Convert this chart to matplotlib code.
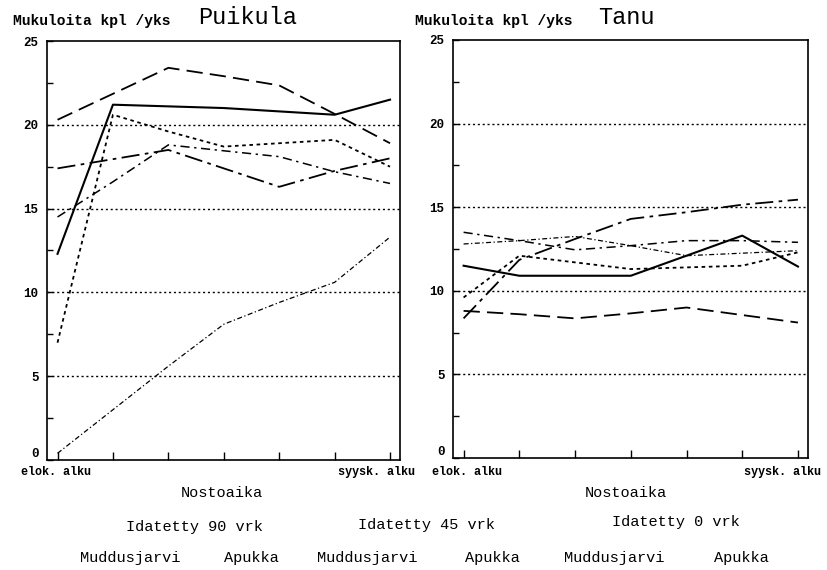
import matplotlib.pyplot as plt
import numpy as np

# nostoaika points (7 lifting times, elok. alku -> syysk. alku)
nosto = [0, 1, 2, 3, 4, 5, 6]

# Puikula, mukuloita kpl /yks
puikula_a = [12.3, 21.2, 21.1, 21.0, 20.8, 20.6, 21.5]
puikula_b = [20.3, 21.85, 23.4, 22.9, 22.35, 20.65, 18.9]
puikula_c = [7.0, 20.6, 19.6, 18.7, 18.9, 19.1, 17.5]
puikula_d = [17.4, 17.95, 18.5, 17.4, 16.3, 17.25, 18.0]
puikula_e = [14.5, 16.6, 18.8, 18.45, 18.1, 17.2, 16.5]
puikula_f = [0.4, 3.0, 5.6, 8.1, 9.4, 10.6, 13.3]

# Tanu
tanu_a = [11.5, 10.9, 10.9, 10.9, 12.1, 13.3, 11.45]
tanu_b = [8.8, 8.6, 8.35, 8.65, 9.0, 8.55, 8.1]
tanu_c = [9.6, 12.1, 11.7, 11.3, 11.4, 11.5, 12.3]
tanu_d = [8.35, 11.85, 13.1, 14.3, 14.7, 15.15, 15.45]
tanu_e = [13.5, 13.0, 12.45, 12.7, 13.0, 13.0, 12.9]
tanu_f = [12.8, 13.0, 13.25, 12.7, 12.1, 12.25, 12.4]

y_ticks = [0, 5, 10, 15, 20, 25]
grid_lines = [5, 10, 15, 20]

mono = "Liberation Mono"

# line styles for the six series
styles = [
    dict(linestyle="-", lw=1.5),
    dict(linestyle=(0, (9, 4)), lw=1.3),
    dict(linestyle=(0, (2, 2)), lw=1.3),
    dict(linestyle=(0, (10, 3, 2, 3)), lw=1.3),
    dict(linestyle=(0, (6, 3, 1.5, 3)), lw=1.1),
    dict(linestyle=(0, (4, 2, 1, 2)), lw=0.9),
]

fig = plt.figure(figsize=(8.27, 5.70), dpi=100)

ax1 = fig.add_axes([47/827, 110/570, 353/827, 419/570])
ax2 = fig.add_axes([453/827, 112/570, 355/827, 418/570])


def setup(ax, series):
    for s, st in zip(series, styles):
        ax.plot(nosto, s, color="black", **st)
    for g in grid_lines:
        ax.axhline(g, color="black", lw=1.0, linestyle=(0, (1.5, 2)), zorder=0)
    ax.set_xlim(-0.19, 6.18)
    ax.set_ylim(0, 25)
    ax.set_xticks(nosto)
    ax.set_xticklabels([])
    ax.set_yticks(y_ticks)
    ax.set_yticklabels([str(v) for v in y_ticks], fontfamily=mono,
                       fontweight="bold", fontsize=9)
    # the zero label sits a bit above the axis line
    ax.get_yticklabels()[0].set_va("bottom")
    ax.set_yticks(np.arange(2.5, 25, 5), minor=True)
    ax.tick_params(axis="x", direction="in", length=6, width=1)
    ax.tick_params(axis="y", which="both", direction="in", length=4, width=1, pad=6)
    for sp in ax.spines.values():
        sp.set_linewidth(1.2)


setup(ax1, [puikula_a, puikula_b, puikula_c, puikula_d, puikula_e, puikula_f])
setup(ax2, [tanu_a, tanu_b, tanu_c, tanu_d, tanu_e, tanu_f])

# headers
fig.text(13/827, 1 - 21/570, "Mukuloita kpl /yks", fontfamily=mono, fontsize=10.5,
         fontweight="bold", va="center")
fig.text(198/827, 1 - 17/570, "Puikula", fontfamily=mono, fontsize=17, va="center")
fig.text(415/827, 1 - 21/570, "Mukuloita kpl /yks", fontfamily=mono, fontsize=10.5,
         fontweight="bold", va="center")
fig.text(598/827, 1 - 17/570, "Tanu", fontfamily=mono, fontsize=17, va="center")

# x end labels
for x0, txt in [(21, "elok. alku"), (338, "syysk. alku"),
                (432, "elok. alku"), (744, "syysk. alku")]:
    fig.text(x0/827, 1 - 472/570, txt, fontfamily=mono, fontsize=8.5,
             fontweight="bold", va="center")

fig.text(222/827, 1 - 493/570, "Nostoaika", fontfamily=mono, fontsize=11, ha="center", va="center")
fig.text(626/827, 1 - 493/570, "Nostoaika", fontfamily=mono, fontsize=11, ha="center", va="center")

# legend texts (treatment and place)
for xc, yc, txt in [(194, 527, "Idatetty 90 vrk"), (426, 525, "Idatetty 45 vrk"),
                    (676, 522, "Idatetty 0 vrk")]:
    fig.text(xc/827, 1 - yc/570, txt, fontfamily=mono, fontsize=11, ha="center", va="center")
for xc, txt in [(130, "Muddusjarvi"), (251, "Apukka"), (367, "Muddusjarvi"),
                (492, "Apukka"), (614, "Muddusjarvi"), (741, "Apukka")]:
    fig.text(xc/827, 1 - 558/570, txt, fontfamily=mono, fontsize=11, ha="center", va="center")

fig.savefig("out.png", dpi=100)
